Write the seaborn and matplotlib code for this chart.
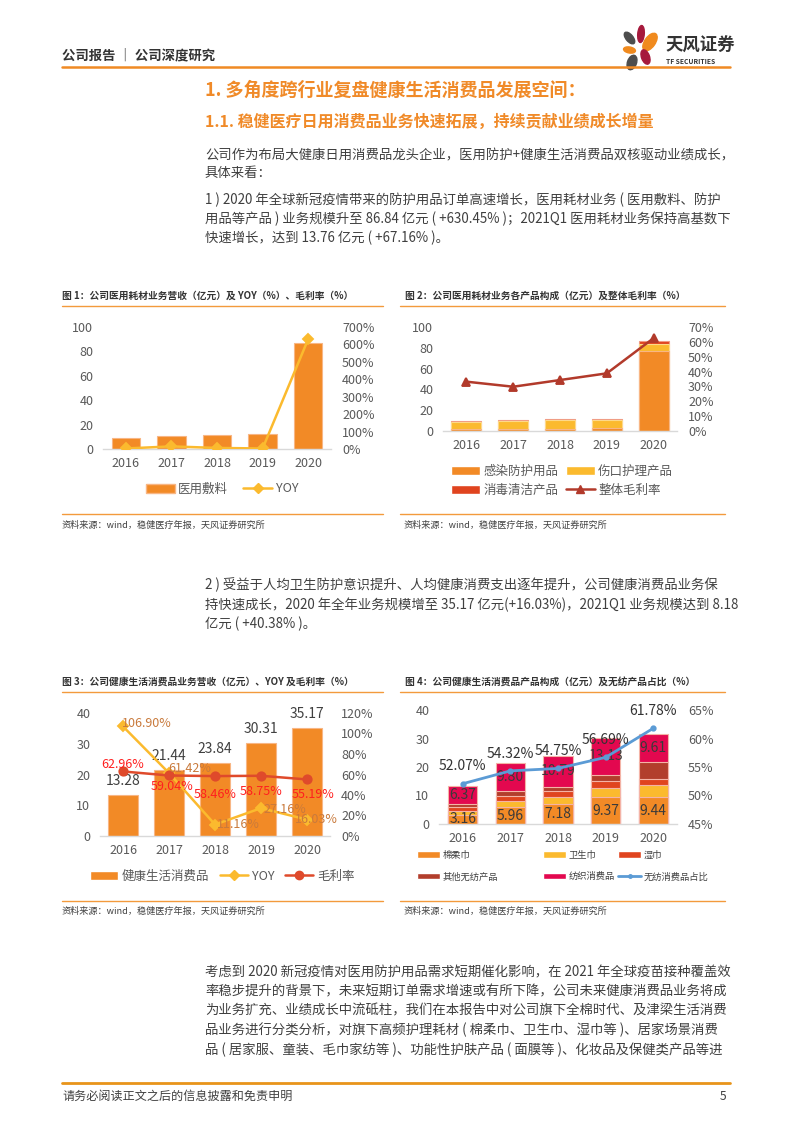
import numpy as np
import seaborn as sns
import matplotlib.pyplot as plt
from matplotlib.patches import Patch, Ellipse
from matplotlib.lines import Line2D

# ---- data ----
years = ["2016", "2017", "2018", "2019", "2020"]

# fig 1: medical consumables revenue (亿元) + YOY (%)
med_rev = [9.2, 10.5, 11.2, 11.89, 86.84]
med_yoy = [3, 15, 6, 3, 630.45]

# fig 2: product split (亿元) + gross margin (%)
infect = [1.5, 2.0, 2.1, 3.0, 77.0]
wound = [7.0, 7.7, 8.2, 7.8, 6.6]
disinfect = [0.7, 0.8, 0.9, 1.09, 3.24]
med_margin = [33.2, 29.8, 34.3, 38.8, 62.5]

# fig 3: health consumer revenue (亿元), YOY and margin (%)
health_rev = [13.28, 21.44, 23.84, 30.31, 35.17]
health_yoy = [106.90, 61.42, 11.16, 27.16, 16.03]
health_margin = [62.96, 59.04, 58.46, 58.75, 55.19]

# fig 4: product split (亿元) + non-woven share (%)
cotton = [3.16, 5.96, 7.18, 9.37, 9.44]
pads = [1.40, 2.10, 2.30, 3.30, 4.20]
wipes = [1.25, 1.80, 2.00, 2.40, 2.20]
other_nw = [1.10, 1.78, 1.57, 2.11, 6.00]
textile = [6.37, 9.80, 10.79, 13.13, 9.61]
nw_share = [52.07, 54.32, 54.75, 56.69, 61.78]

# ---- style ----
sns.set_theme(style="white")
plt.rcParams["font.family"] = ["Noto Sans CJK SC", "DejaVu Sans"]
plt.rcParams["axes.unicode_minus"] = False

ORANGE = "#F28A26"
YELLOW = "#FBBA2E"
RED = "#E0441F"
BROWN = "#B23E2C"
CRIMSON = "#E3084F"
BLUE = "#5B9BD5"
BODY = "#3F3F3F"
TICK = "#595959"
HEAD = "#F08A28"

W, H = 793, 1122
fig = plt.figure(figsize=(W / 100, H / 100), dpi=100)
fig.patch.set_facecolor("white")


def box(x0, y0, x1, y1):
    return [x0 / W, 1 - y1 / H, (x1 - x0) / W, (y1 - y0) / H]


def txt(x, y, s, size=9.6, color=BODY, weight="normal", ha="left", va="center"):
    fig.text(x / W, 1 - y / H, s, fontsize=size, color=color, fontweight=weight, ha=ha, va=va)


def hline(x0, x1, y, color=HEAD, lw=1.0):
    fig.add_artist(Line2D([x0 / W, x1 / W], [1 - y / H, 1 - y / H], color=color, lw=lw))


def style_axes(ax, ax2, lticks, rticks, rfmt="{}%"):
    for s in ["top", "left", "right"]:
        ax.spines[s].set_visible(False)
        ax2.spines[s].set_visible(False)
    ax2.spines["bottom"].set_visible(False)
    ax.spines["bottom"].set_color("#D9D9D9")
    ax.spines["bottom"].set_linewidth(1)
    ax.set_ylim(lticks[0], lticks[-1])
    ax.set_yticks(lticks)
    ax2.set_ylim(rticks[0], rticks[-1])
    ax2.set_yticks(rticks)
    ax2.set_yticklabels([rfmt.format(t) for t in rticks])
    for a in (ax, ax2):
        a.set_xlabel("")
        a.set_ylabel("")
        a.grid(False)
        a.tick_params(length=0, labelsize=9, colors=TICK)
    ax.tick_params(axis="y", pad=7)
    ax.tick_params(axis="x", pad=6)
    ax2.tick_params(axis="y", pad=8)
    ax.set_facecolor("none")


# ---- header ----
txt(62, 55, "公司报告 ｜ 公司深度研究", size=9.6, color="#333333", weight="bold")
hline(62, 730, 67, color="#F08A24", lw=1.8)

logo = fig.add_axes(box(612, 22, 662, 72))
logo.set_xlim(612, 662)
logo.set_ylim(72, 22)
logo.axis("off")
petals = [
    ((641, 34), 6.5, 17, 5, "#A6193C"),
    ((629.5, 38), 7, 14, -40, "#4D4D4D"),
    ((650, 42), 10.5, 20, 35, "#F08A1E"),
    ((629.5, 50), 12, 6, 10, "#F08A1E"),
    ((645.5, 57), 8, 15, -20, "#A6193C"),
    ((632, 62.5), 9, 15, 20, "#4D4D4D"),
]
for c, w_, h_, ang, col in petals:
    logo.add_patch(Ellipse(c, w_, h_, angle=ang, color=col))
txt(665, 46, "天风证券", size=12.5, color="#333333", weight="bold")
txt(666, 62, "TF SECURITIES", size=4.8, color="#333333", weight="bold")

# ---- headings and text ----
txt(205, 90, "1. 多角度跨行业复盘健康生活消费品发展空间：", size=13, color=HEAD, weight="bold")
txt(205, 122, "1.1. 稳健医疗日用消费品业务快速拓展，持续贡献业绩成长增量", size=11.5, color=HEAD, weight="bold")

para1 = ["公司作为布局大健康日用消费品龙头企业，医用防护+健康生活消费品双核驱动业绩成长，",
         "具体来看："]
para2 = ["1 ) 2020 年全球新冠疫情带来的防护用品订单高速增长，医用耗材业务 ( 医用敷料、防护",
         "用品等产品 ) 业务规模升至 86.84 亿元 ( +630.45% )；2021Q1 医用耗材业务保持高基数下",
         "快速增长，达到 13.76 亿元 ( +67.16% )。"]
para3 = ["2 ) 受益于人均卫生防护意识提升、人均健康消费支出逐年提升，公司健康消费品业务保",
         "持快速成长，2020 年全年业务规模增至 35.17 亿元(+16.03%)，2021Q1 业务规模达到 8.18",
         "亿元 ( +40.38% )。"]
para4 = ["考虑到 2020 新冠疫情对医用防护用品需求短期催化影响，在 2021 年全球疫苗接种覆盖效",
         "率稳步提升的背景下，未来短期订单需求增速或有所下降，公司未来健康消费品业务将成",
         "为业务扩充、业绩成长中流砥柱，我们在本报告中对公司旗下全棉时代、及津梁生活消费",
         "品业务进行分类分析，对旗下高频护理耗材 ( 棉柔巾、卫生巾、湿巾等 )、居家场景消费",
         "品 ( 居家服、童装、毛巾家纺等 )、功能性护肤产品 ( 面膜等 )、化妆品及保健类产品等进"]

for i, line in enumerate(para1):
    txt(205, 155 + i * 17.5, line)
for i, line in enumerate(para2):
    txt(205, 200 + i * 19.2, line)
for i, line in enumerate(para3):
    txt(205, 585 + i * 19.5, line)
for i, line in enumerate(para4):
    txt(205, 972 + i * 19.4, line)

# ---- chart frames ----
src = "资料来源：wind，稳健医疗年报，天风证券研究所"
txt(62, 296, "图 1：公司医用耗材业务营收（亿元）及 YOY（%）、毛利率（%）", size=7, color="#333333", weight="bold")
txt(405, 296, "图 2：公司医用耗材业务各产品构成（亿元）及整体毛利率（%）", size=7, color="#333333", weight="bold")
txt(62, 682, "图 3：公司健康生活消费品业务营收（亿元）、YOY 及毛利率（%）", size=7, color="#333333", weight="bold")
txt(405, 682, "图 4：公司健康生活消费品产品构成（亿元）及无纺产品占比（%）", size=7, color="#333333", weight="bold")
for y in (306, 514, 692, 901):
    hline(62, 383, y, color="#F39A3C", lw=1)
    hline(400, 725, y, color="#F39A3C", lw=1)
for x, y in ((62, 525), (404, 525), (62, 911), (404, 911)):
    txt(x, y, src, size=6.6, color="#404040")

# ---- figure 1 ----
ax = fig.add_axes(box(103, 327, 331, 449))
sns.barplot(x=years, y=med_rev, color=ORANGE, width=0.62, saturation=1, errorbar=None,
            edgecolor="#F8B684", linewidth=0.8, ax=ax)
ax2 = ax.twinx()
sns.pointplot(x=years, y=med_yoy, color=YELLOW, markers="D", errorbar=None,
              markersize=5, linewidth=1.8, ax=ax2)
style_axes(ax, ax2, list(range(0, 101, 20)), list(range(0, 701, 100)))
fig.legend(handles=[Patch(facecolor=ORANGE, edgecolor="#F8B684"),
                    Line2D([], [], color=YELLOW, marker="D", markersize=5, lw=1.8)],
           labels=["医用敷料", "YOY"], loc="center", bbox_to_anchor=(222 / W, 1 - 489 / H),
           ncol=2, frameon=False, fontsize=9, handlelength=2.3, columnspacing=1.2,
           handletextpad=0.3, labelcolor=TICK)

# ---- figure 2 ----
ax = fig.add_axes(box(443, 327, 677, 431))
layers2 = [infect, wound, disinfect]
colors2 = [ORANGE, YELLOW, RED]
edges2 = ["#F8B684", "#FDD98A", "#F09A84"]
cum2 = np.cumsum(layers2, axis=0)
for i in reversed(range(len(layers2))):
    sns.barplot(x=years, y=cum2[i], color=colors2[i], width=0.64, saturation=1, errorbar=None,
                edgecolor=edges2[i], linewidth=0.8, ax=ax)
ax2 = ax.twinx()
sns.pointplot(x=years, y=med_margin, color="#B23A2B", markers="^", errorbar=None,
              markersize=6, linewidth=1.8, ax=ax2)
style_axes(ax, ax2, list(range(0, 101, 20)), list(range(0, 71, 10)))
h2 = [Patch(facecolor=ORANGE), Patch(facecolor=RED), Patch(facecolor=YELLOW),
      Line2D([], [], color="#B23A2B", marker="^", markersize=6, lw=1.8)]
fig.legend(handles=h2, labels=["感染防护用品", "消毒清洁产品", "伤口护理产品", "整体毛利率"],
           loc="center", bbox_to_anchor=(562 / W, 1 - 481 / H), ncol=2, frameon=False,
           fontsize=9, handlelength=2.3, columnspacing=0.6, handletextpad=0.3,
           labelspacing=0.45, labelcolor=TICK)

# ---- figure 3 ----
ax = fig.add_axes(box(100, 713, 330, 836))
sns.barplot(x=years, y=health_rev, color=ORANGE, width=0.65, saturation=1, errorbar=None,
            edgecolor="#F8B684", linewidth=0.8, ax=ax)
for i, v in enumerate(health_rev):
    ax.annotate(f"{v:.2f}", (i, v), xytext=(0, 5), textcoords="offset points",
                ha="center", va="bottom", fontsize=10, color="#404040")
ax2 = ax.twinx()
sns.pointplot(x=years, y=health_yoy, color=YELLOW, markers="D", errorbar=None,
              markersize=5, linewidth=1.8, ax=ax2)
sns.pointplot(x=years, y=health_margin, color="#DF4A2B", markers="o", errorbar=None,
              markersize=6, linewidth=1.8, ax=ax2)
style_axes(ax, ax2, list(range(0, 41, 10)), list(range(0, 121, 20)))
# label offsets (points) as placed in the source chart
yoy_off = [(17, 2), (15, 3), (17, 0), (17, -1), (7, 0)]
margin_off = [(0, 5), (2, -8), (0, -13), (0, -11.5), (4, -11)]
for i, v in enumerate(health_yoy):
    ax2.annotate(f"{v:.2f}%", (i, v), xytext=yoy_off[i], textcoords="offset points",
                 ha="center", va="center", fontsize=9, color="#C97A3C")
for i, v in enumerate(health_margin):
    ax2.annotate(f"{v:.2f}%", (i, v), xytext=margin_off[i], textcoords="offset points",
                 ha="center", va="center", fontsize=9, color="#FF1F1F")
fig.legend(handles=[Patch(facecolor=ORANGE),
                    Line2D([], [], color=YELLOW, marker="D", markersize=5, lw=1.8),
                    Line2D([], [], color="#DF4A2B", marker="o", markersize=6, lw=1.8)],
           labels=["健康生活消费品", "YOY", "毛利率"], loc="center",
           bbox_to_anchor=(222 / W, 1 - 876 / H), ncol=3, frameon=False, fontsize=9,
           handlelength=2.3, columnspacing=0.8, handletextpad=0.3, labelcolor=TICK)

# ---- figure 4 ----
ax = fig.add_axes(box(439, 710, 677, 824))
layers4 = [cotton, pads, wipes, other_nw, textile]
colors4 = [ORANGE, YELLOW, RED, BROWN, CRIMSON]
cum4 = np.cumsum(layers4, axis=0)
for i in reversed(range(len(layers4))):
    sns.barplot(x=years, y=cum4[i], color=colors4[i], width=0.61, saturation=1, errorbar=None,
                edgecolor="#F4B3A6", linewidth=0.8, ax=ax)
for i in range(len(years)):
    ax.text(i, cum4[0][i] / 2, f"{cotton[i]:.2f}", ha="center", va="center",
            fontsize=10, color="#3A3A3A")
    ax.text(i, cum4[4][i] - textile[i] / 2, f"{textile[i]:.2f}", ha="center", va="center",
            fontsize=10, color="#3A3A3A")
ax2 = ax.twinx()
sns.pointplot(x=years, y=nw_share, color=BLUE, markers="o", errorbar=None,
              markersize=3, linewidth=2, ax=ax2)
style_axes(ax, ax2, list(range(0, 41, 10)), list(range(45, 66, 5)))
for i, v in enumerate(nw_share):
    ax2.annotate(f"{v:.2f}%", (i, v), xytext=(0, 12.5), textcoords="offset points",
                 ha="center", va="center", fontsize=10, color="#333333")

leg_cols = [
    (417, [Patch(facecolor=ORANGE), Patch(facecolor=BROWN)], ["棉柔巾", "其他无纺产品"]),
    (543, [Patch(facecolor=YELLOW), Patch(facecolor=CRIMSON)], ["卫生巾", "纺织消费品"]),
    (618, [Patch(facecolor=RED), Line2D([], [], color=BLUE, marker="o", markersize=2.5, lw=2)],
     ["湿巾", "无纺消费品占比"]),
]
for x0, hs, ls in leg_cols:
    fig.legend(handles=hs, labels=ls, loc="center left",
               bbox_to_anchor=(x0 / W, 1 - 866 / H), frameon=False, fontsize=6.7,
               borderpad=0, borderaxespad=0, handlelength=2.5, handletextpad=0.25,
               labelspacing=1.35, labelcolor="#404040")

# ---- footer ----
hline(62, 730, 1083, color="#E8941A", lw=2)
txt(62, 1096, "请务必阅读正文之后的信息披露和免责申明", size=8.7, color="#404040")
txt(726, 1096, "5", size=8.7, color="#404040", ha="right")

fig.savefig("out.png", dpi=100, facecolor="white")
